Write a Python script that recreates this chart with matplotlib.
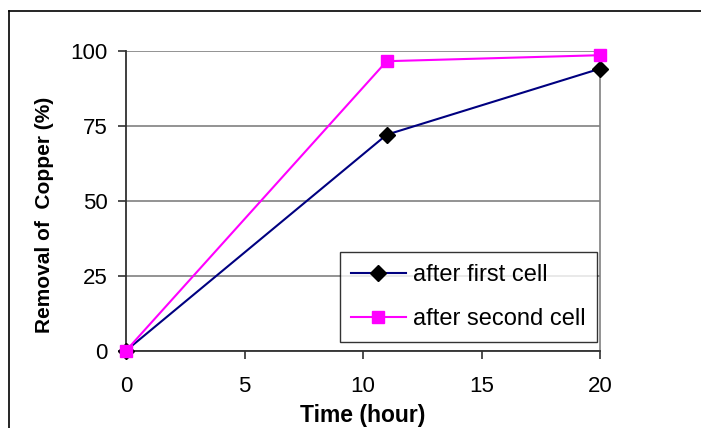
import matplotlib
matplotlib.use("Agg")
import matplotlib.pyplot as plt
from matplotlib.lines import Line2D

time_hours = [0, 11, 20]
after_first_cell = [0, 72, 94]
after_second_cell = [0, 96.5, 98.5]
x_ticks = [0, 5, 10, 15, 20]
y_ticks = [0, 25, 50, 75, 100]

plt.rcParams['font.family'] = ['Liberation Sans', 'DejaVu Sans']

fig = plt.figure(figsize=(7.01, 4.28), dpi=100)
ax = fig.add_axes([126/701, 1-350.7/428, 474/701, 300/428])

ax.set_xlim(0, 20)
ax.set_ylim(0, 100)
ax.set_xticks(x_ticks)
ax.set_yticks(y_ticks)
ax.yaxis.grid(True, color='#808080', linewidth=1.2)
ax.set_axisbelow(True)

ax.plot(time_hours, after_first_cell, color='#000080', linewidth=1.5,
        marker='D', markersize=8.5, markerfacecolor='black', markeredgecolor='black',
        label='after first cell', clip_on=False, zorder=3)
ax.plot(time_hours, after_second_cell, color='#FF00FF', linewidth=1.5,
        marker='s', markersize=8, markerfacecolor='#FF00FF', markeredgecolor='#FF00FF',
        label='after second cell', clip_on=False, zorder=4)

for s in ['left', 'bottom']:
    ax.spines[s].set_color('#303030')
    ax.spines[s].set_linewidth(1.3)
ax.spines['top'].set_visible(False)
ax.spines['right'].set_color('#808080')
ax.spines['right'].set_linewidth(1.2)

ax.tick_params(axis='both', direction='out', length=5.5, width=1.2, color='#303030',
               labelsize=16)
ax.tick_params(axis='x', pad=13)
ax.tick_params(axis='y', pad=7.5)

ax.set_xlabel('Time (hour)', fontsize=16.5, fontweight='bold', labelpad=5)
ax.set_ylabel('Removal of  Copper (%)', fontsize=15, fontweight='bold')
ax.yaxis.set_label_coords(-0.152, 0.452)

leg = ax.legend(loc='lower right', bbox_to_anchor=(0.994, 0.029), borderaxespad=0,
                fontsize=17, frameon=True, fancybox=False, handlelength=2.3,
                labelspacing=0.95, borderpad=0.5, handletextpad=0.3)
leg.get_frame().set_edgecolor('black')
leg.get_frame().set_linewidth(1.0)

fig.add_artist(Line2D([9/701, 9/701], [0, 1-11/428], transform=fig.transFigure,
                      color='black', linewidth=1.2))
fig.add_artist(Line2D([9/701, 1], [1-11/428, 1-11/428], transform=fig.transFigure,
                      color='black', linewidth=1.2))

fig.savefig('out.png', dpi=100)
